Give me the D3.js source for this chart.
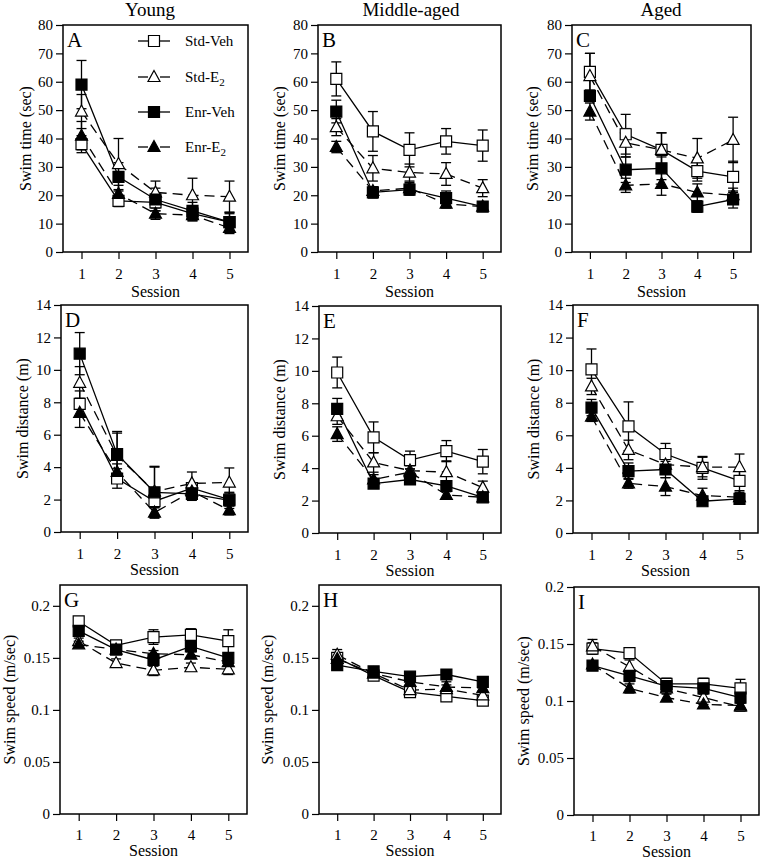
<!DOCTYPE html>
<html><head><meta charset="utf-8">
<script src="https://cdn.jsdelivr.net/npm/d3@7"></script>
<style>
body{margin:0;background:#fff}
svg{display:block}
</style>
</head><body>
<svg id="c" width="760" height="859"></svg>
<script>
const sessions = [1, 2, 3, 4, 5];
const groups = ["Std-Veh", "Std-E2", "Enr-Veh", "Enr-E2"];
const ageGroups = ["Young", "Middle-aged", "Aged"];
const panelLetters = ["A", "B", "C", "D", "E", "F", "G", "H", "I"];
const measureLabels = ["Swim time (sec)", "Swim distance (m)", "Swim speed (m/sec)"];
const timeTicks = [0, 10, 20, 30, 40, 50, 60, 70, 80];
const distTicks = [0, 2, 4, 6, 8, 10, 12, 14];
const speedTicks = [0, 0.05, 0.1, 0.15, 0.2];

// rows: Std-Veh, Std-E2, Enr-Veh, Enr-E2 ; columns: sessions 1..5
const timeYoung = [
  [38, 18, 17.5, 13.5, 10.5],
  [49.5, 31, 21, 20, 19.5],
  [59, 26.5, 18.5, 14.5, 10.5],
  [41, 20.5, 13.5, 13, 8.5]
];
const timeYoungErr = [
  [3, 2, 3, 2.5, 3],
  [6, 9, 4, 6, 5.5],
  [8.5, 5, 4, 3, 3.5],
  [5, 3, 2, 2, 2]
];
const timeMiddle = [
  [61, 42.5, 36, 39, 37.5],
  [44, 29.5, 28, 27.5, 22.5],
  [49.5, 21, 22, 19, 16],
  [37, 21.5, 22.5, 17, 16]
];
const timeMiddleErr = [
  [6, 7, 6, 4.5, 5.5],
  [3, 4.5, 3, 4, 3],
  [4, 2, 2, 2.5, 1.5],
  [2, 1.5, 2, 1.5, 1]
];
const timeAged = [
  [63.5, 41.5, 36, 28.5, 26.5],
  [62, 38.5, 36, 33, 39.5],
  [55, 29, 29.5, 16, 18.5],
  [49.5, 23.5, 24, 21, 20]
];
const timeAgedErr = [
  [6.5, 7, 6, 3.5, 5.5],
  [8, 5, 6, 7, 8],
  [2, 4.5, 4, 2, 3],
  [3, 2.5, 4, 3, 2.5]
];
const distYoung = [
  [7.9, 3.3, 1.9, 2.7, 2.0],
  [9.2, 4.7, 2.5, 3.0, 3.05],
  [11, 4.8, 2.45, 2.35, 1.95],
  [7.35, 3.7, 1.2, 2.5, 1.35]
];
const distYoungErr = [
  [0.8, 0.6, 0.4, 0.3, 0.4],
  [1.0, 1.4, 1.5, 0.7, 0.9],
  [1.3, 1.4, 1.6, 0.4, 0.5],
  [0.9, 0.5, 0.3, 0.3, 0.3]
];
const distMiddle = [
  [9.9, 5.9, 4.5, 5.05, 4.4],
  [7.2, 4.35, 3.85, 3.75, 2.8],
  [7.65, 3.05, 3.3, 2.9, 2.2],
  [6.1, 3.3, 3.75, 2.35, 2.2]
];
const distMiddleErr = [
  [0.95, 0.95, 0.55, 0.65, 0.75],
  [0.5, 0.6, 0.3, 0.7, 0.4],
  [0.65, 0.2, 0.2, 0.3, 0.2],
  [0.45, 0.3, 0.2, 0.2, 0.2]
];
const distAged = [
  [10.05, 6.55, 4.85, 4.0, 3.2],
  [9.0, 5.1, 4.2, 4.05, 4.05],
  [7.7, 3.8, 3.9, 1.95, 2.1],
  [7.15, 3.05, 2.85, 2.3, 2.2]
];
const distAgedErr = [
  [1.25, 1.5, 0.65, 0.7, 0.6],
  [0.5, 0.6, 0.45, 0.6, 0.8],
  [0.5, 0.5, 0.5, 0.2, 0.2],
  [0.3, 0.3, 0.55, 0.45, 0.3]
];
const speedYoung = [
  [0.185, 0.162, 0.170, 0.172, 0.166],
  [0.166, 0.145, 0.138, 0.141, 0.139],
  [0.176, 0.158, 0.148, 0.161, 0.150],
  [0.163, 0.158, 0.154, 0.153, 0.146]
];
const speedYoungErr = [
  [0.004, 0.003, 0.007, 0.006, 0.011],
  [0.003, 0.004, 0.005, 0.004, 0.005],
  [0.004, 0.003, 0.006, 0.005, 0.005],
  [0.003, 0.003, 0.003, 0.003, 0.004]
];
const speedMiddle = [
  [0.150, 0.133, 0.117, 0.113, 0.109],
  [0.153, 0.135, 0.119, 0.120, 0.114],
  [0.143, 0.137, 0.132, 0.134, 0.127],
  [0.149, 0.135, 0.127, 0.122, 0.121]
];
const speedMiddleErr = [
  [0.005, 0.003, 0.004, 0.004, 0.004],
  [0.005, 0.003, 0.003, 0.004, 0.003],
  [0.003, 0.002, 0.002, 0.002, 0.002],
  [0.004, 0.002, 0.003, 0.005, 0.003]
];
const speedAged = [
  [0.146, 0.142, 0.115, 0.115, 0.111],
  [0.148, 0.130, 0.111, 0.103, 0.095],
  [0.131, 0.122, 0.113, 0.111, 0.103],
  [0.132, 0.111, 0.103, 0.097, 0.096]
];
const speedAgedErr = [
  [0.005, 0.004, 0.005, 0.005, 0.008],
  [0.006, 0.006, 0.004, 0.006, 0.004],
  [0.003, 0.005, 0.004, 0.005, 0.005],
  [0.003, 0.004, 0.003, 0.003, 0.003]
];

// ---- layout (pixels) ----
const frames = [
  {l:63, r:248, t:25, b:252}, {l:318, r:501, t:25, b:252}, {l:572, r:751, t:25, b:252},
  {l:61, r:248, t:305, b:532}, {l:319, r:501, t:306, b:533}, {l:573, r:758, t:305, b:533},
  {l:60, r:247, t:585, b:814}, {l:319, r:501, t:585, b:814}, {l:574, r:759, t:587, b:815}
];
const yLabelX = [25, 279, 532, 22, 279, 533, 9, 267, 523];
const titleX = [150, 411, 661];
const sessionOffset = [45, 43, 42];
const tickPad = [9, 9, 8];

const panels = [
  {m: timeYoung, e: timeYoungErr, ticks: timeTicks, dom: [0, 80]},
  {m: timeMiddle, e: timeMiddleErr, ticks: timeTicks, dom: [0, 80]},
  {m: timeAged, e: timeAgedErr, ticks: timeTicks, dom: [0, 80]},
  {m: distYoung, e: distYoungErr, ticks: distTicks, dom: [0, 14]},
  {m: distMiddle, e: distMiddleErr, ticks: distTicks, dom: [0, 14]},
  {m: distAged, e: distAgedErr, ticks: distTicks, dom: [0, 14]},
  {m: speedYoung, e: speedYoungErr, ticks: speedTicks, dom: [0, 0.22]},
  {m: speedMiddle, e: speedMiddleErr, ticks: speedTicks, dom: [0, 0.22]},
  {m: speedAged, e: speedAgedErr, ticks: speedTicks, dom: [0, 0.2]}
];

const styles = [
  {dash: null, fill: "#fff", shape: "square"},
  {dash: "10,6", fill: "#fff", shape: "triangle"},
  {dash: null, fill: "#000", shape: "square"},
  {dash: "10,6", fill: "#000", shape: "triangle"}
];
const squarePath = "M-5.5,-5.5H5.5V5.5H-5.5Z";
const triPath = "M0,-6.5L6,4.5L-6,4.5Z";
const fs = n => `font-family:'Liberation Serif';font-size:${n}px;fill:#000`;

const svg = d3.select("#c");

ageGroups.forEach((t, i) => {
  svg.append("text").attr("x", titleX[i]).attr("y", 16)
    .attr("text-anchor", "middle").attr("style", fs(19)).text(t);
});

const fmt = v => String(+v.toFixed(2));

panels.forEach((p, pi) => {
  const f = frames[pi];
  const row = Math.floor(pi / 3);
  const x = d3.scaleLinear().domain([0.5, 5.5]).range([f.l, f.r]);
  const y = d3.scaleLinear().domain(p.dom).range([f.b, f.t]);
  const g = svg.append("g");

  const ya = g.append("g").attr("transform", `translate(${f.l},0)`)
    .call(d3.axisLeft(y).tickValues(p.ticks).tickSize(7).tickPadding(3).tickFormat(fmt));
  const xa = g.append("g").attr("transform", `translate(0,${f.b})`)
    .call(d3.axisBottom(x).tickValues(sessions).tickSize(7).tickPadding(tickPad[row]).tickFormat(d3.format("d")));
  [ya, xa].forEach(a => {
    a.attr("font-family", null).attr("font-size", null);
    a.select(".domain").remove();
    a.selectAll("line").attr("stroke", "#000").attr("stroke-width", 1.2);
    a.selectAll("text").attr("fill", null).attr("style", fs(15));
  });

  g.append("rect").attr("x", f.l).attr("y", f.t).attr("width", f.r - f.l).attr("height", f.b - f.t)
    .attr("fill", "none").attr("stroke", "#000").attr("stroke-width", 1.5);

  g.append("text").attr("transform", `translate(${yLabelX[pi]},${(f.t + f.b) / 2}) rotate(-90)`)
    .attr("text-anchor", "middle").attr("dy", "0.35em").attr("style", fs(16))
    .text(measureLabels[row]);
  g.append("text").attr("x", (f.l + f.r) / 2).attr("y", f.b + sessionOffset[row])
    .attr("text-anchor", "middle").attr("style", fs(16)).text("Session");
  g.append("text").attr("x", f.l + 4).attr("y", f.t + 22).attr("style", fs(21)).text(panelLetters[pi]);

  const line = d3.line().x((d, i) => x(sessions[i])).y(d => y(d));

  p.m.forEach((vals, si) => {
    g.append("path").attr("d", line(vals)).attr("fill", "none").attr("stroke", "#000")
      .attr("stroke-width", 1.3).attr("stroke-dasharray", styles[si].dash);
  });
  p.m.forEach((vals, si) => {
    vals.forEach((v, i) => {
      const e = p.e[si][i];
      const cx = x(sessions[i]);
      const y1 = y(v - e), y2 = y(v + e);
      g.append("line").attr("x1", cx).attr("x2", cx).attr("y1", y1).attr("y2", y2).attr("stroke", "#000").attr("stroke-width", 1.3);
      [y1, y2].forEach(yy => g.append("line").attr("x1", cx - 5).attr("x2", cx + 5).attr("y1", yy).attr("y2", yy).attr("stroke", "#000").attr("stroke-width", 1.3));
    });
  });
  p.m.forEach((vals, si) => {
    const st = styles[si];
    g.selectAll(null).data(vals).enter().append("path")
      .attr("d", st.shape === "square" ? squarePath : triPath)
      .attr("transform", (d, i) => `translate(${x(sessions[i])},${y(d)})`)
      .attr("fill", st.fill).attr("stroke", "#000").attr("stroke-width", 1.2);
  });
});

const legY = [41, 77, 112, 147];
const leg = svg.append("g");
groups.forEach((name, i) => {
  const st = styles[i];
  const yy = legY[i];
  if (st.dash) {
    leg.append("line").attr("x1", 138).attr("x2", 148).attr("y1", yy).attr("y2", yy).attr("stroke", "#000").attr("stroke-width", 1.3);
    leg.append("line").attr("x1", 160).attr("x2", 170).attr("y1", yy).attr("y2", yy).attr("stroke", "#000").attr("stroke-width", 1.3);
  } else {
    leg.append("line").attr("x1", 138).attr("x2", 170).attr("y1", yy).attr("y2", yy).attr("stroke", "#000").attr("stroke-width", 1.3);
  }
  leg.append("path").attr("d", st.shape === "square" ? squarePath : triPath)
    .attr("transform", `translate(154,${yy})`).attr("fill", st.fill).attr("stroke", "#000").attr("stroke-width", 1.2);
  const t = leg.append("text").attr("x", 185).attr("y", yy + 5).attr("style", fs(15));
  if (name.endsWith("E2")) {
    t.append("tspan").text(name.slice(0, -1));
    t.append("tspan").attr("dy", 4).attr("style", "font-size:11px").text("2");
  } else {
    t.text(name);
  }
});
</script>
</body></html>
